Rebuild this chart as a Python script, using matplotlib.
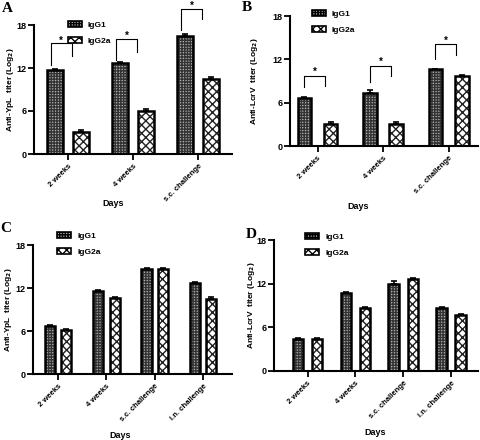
import numpy as np
import matplotlib
matplotlib.use("Agg")
import matplotlib.pyplot as plt

plt.rcParams['font.family'] = ['Liberation Sans', 'DejaVu Sans']
plt.rcParams['font.weight'] = 'bold'
plt.rcParams['hatch.linewidth'] = 1.0
plt.rcParams['mathtext.default'] = 'bf'

# --- data ---
days3 = ["2 weeks", "4 weeks", "s.c. challenge"]
days4 = ["2 weeks", "4 weeks", "s.c. challenge", "i.n. challenge"]

ypl_igg1_a = [11.7, 12.7, 16.4]
ypl_igg2a_a = [3.1, 6.0, 10.4]
ypl_igg1_a_err = [0.1, 0.1, 0.3]
ypl_igg2a_a_err = [0.3, 0.3, 0.3]

lcrv_igg1_b = [6.7, 7.4, 10.6]
lcrv_igg2a_b = [3.1, 3.1, 9.7]
lcrv_igg1_b_err = [0.1, 0.3, 0.1]
lcrv_igg2a_b_err = [0.25, 0.25, 0.1]

ypl_igg1_c = [6.7, 11.6, 14.7, 12.7]
ypl_igg2a_c = [6.1, 10.6, 14.7, 10.4]
ypl_igg1_c_err = [0.1, 0.1, 0.1, 0.1]
ypl_igg2a_c_err = [0.15, 0.1, 0.1, 0.3]

lcrv_igg1_d = [4.4, 10.7, 12.0, 8.7]
lcrv_igg2a_d = [4.4, 8.7, 12.7, 7.7]
lcrv_igg1_d_err = [0.1, 0.1, 0.35, 0.1]
lcrv_igg2a_d_err = [0.1, 0.1, 0.1, 0.1]

# significance brackets: (group, top, left leg end, right leg end, star y)
brackets_a = [(0, 15.5, 12.4, 13.7, 16.1), (1, 16.0, 13.1, 14.3, 16.8), (2, 20.3, 17.3, 18.9, 21.0)]
brackets_b = [(0, 9.7, 8.1, 8.3, 10.5), (1, 11.1, 8.9, 9.7, 11.9), (2, 14.1, 12.0, 12.6, 14.9)]

fig = plt.figure(figsize=(4.8, 4.4), dpi=100)

def px(l, t, r, b):
    W, H = 480, 440
    return [l / W, 1 - b / H, (r - l) / W, (b - t) / H]

def panel(rect, cats, g1, g2, e1, e2, ylabel, off, width, xlim, leg_xy, xlab_xy, ylab_x, letter, letter_xy):
    ax = fig.add_axes(px(*rect))
    x = np.arange(len(cats))
    z = np.zeros(len(cats))
    # hatch layer first, then black outline on top
    ax.bar(x - off, g1, width, facecolor='#b0b0b0', edgecolor='#333333', hatch='++++++', linewidth=0)
    ax.bar(x + off, g2, width, facecolor='white', edgecolor='#222222', hatch='xxxx', linewidth=0)
    ax.bar(x - off, g1, width, fill=False, edgecolor='black', linewidth=1.8)
    ax.bar(x + off, g2, width, fill=False, edgecolor='black', linewidth=1.8)
    ax.errorbar(x - off, g1, yerr=[z, e1], fmt='none', ecolor='black', elinewidth=1.2, capsize=2.5, capthick=1.2)
    ax.errorbar(x + off, g2, yerr=[z, e2], fmt='none', ecolor='black', elinewidth=1.2, capsize=2.5, capthick=1.2)
    # legend handles
    ax.bar([0], [0], 0, facecolor='#b0b0b0', edgecolor='black', hatch='++++++', linewidth=1.2, label='IgG1')
    ax.bar([0], [0], 0, facecolor='white', edgecolor='black', hatch='xxxx', linewidth=1.2, label='IgG2a')
    ax.set_ylim(0, 18)
    ax.set_yticks([0, 6, 12, 18])
    ax.set_xlim(*xlim)
    ax.set_xticks(x)
    ax.set_xticklabels(cats, rotation=45, ha='right', rotation_mode='anchor', fontsize=5.5)
    ax.tick_params(axis='y', labelsize=6.5, width=1.3, length=4, pad=1.5)
    ax.tick_params(axis='x', width=1.3, length=4, pad=2)
    for s in ['top', 'right']:
        ax.spines[s].set_visible(False)
    for s in ['left', 'bottom']:
        ax.spines[s].set_linewidth(1.5)
    ax.set_ylabel(ylabel, fontsize=6, fontweight='bold')
    ax.yaxis.set_label_coords(ylab_x, 0.5)
    ax.set_xlabel("Days", fontsize=6.5, fontweight='bold')
    ax.xaxis.set_label_coords(*xlab_xy)
    ax.legend(loc='upper left', bbox_to_anchor=(leg_xy[0] / 480, 1 - leg_xy[1] / 440),
              bbox_transform=fig.transFigure, frameon=False, fontsize=6,
              handlelength=1.7, handleheight=0.8, handletextpad=0.7, labelspacing=0.9,
              borderpad=0, borderaxespad=0)
    fig.text(letter_xy[0] / 480, 1 - letter_xy[1] / 440, letter, family='Liberation Serif',
             fontsize=11, fontweight='bold', ha='left', va='top')
    return ax

def add_brackets(ax, brackets, x0, x1):
    for g, top, yl, yr, ys in brackets:
        ax.plot([g + x0, g + x0, g + x1, g + x1], [yl, top, top, yr], color='black', lw=0.8, clip_on=False)
        ax.text(g + (x0 + x1) / 2, ys - 0.3, "*", ha='center', va='center', fontsize=7, clip_on=False)

ax_a = panel((34, 25, 232, 154), days3, ypl_igg1_a, ypl_igg2a_a, ypl_igg1_a_err, ypl_igg2a_a_err,
             r"Anti-YpL  titer (Log$_2$)", 0.2, 0.24, (-0.52, 2.52), (68, 21), (0.40, -0.35), -0.09, "A", (2, 2))
add_brackets(ax_a, brackets_a, -0.26, 0.06)

ax_b = panel((290, 16, 478, 146), days3, lcrv_igg1_b, lcrv_igg2a_b, lcrv_igg1_b_err, lcrv_igg2a_b_err,
             r"Anti-LcrV  titer (Log$_2$)", 0.2, 0.21, (-0.42, 2.45), (312, 10), (0.36, -0.43), -0.16, "B", (242, 1))
add_brackets(ax_b, brackets_b, -0.2, 0.12)

ax_c = panel((33, 245, 232, 374), days4, ypl_igg1_c, ypl_igg2a_c, ypl_igg1_c_err, ypl_igg2a_c_err,
             r"Anti-YpL  titer (Log$_2$)", 0.17, 0.21, (-0.52, 3.6), (57, 232), (0.44, -0.44), -0.095, "C", (0, 222))

ax_d = panel((274, 240, 478, 371), days4, lcrv_igg1_d, lcrv_igg2a_d, lcrv_igg1_d_err, lcrv_igg2a_d_err,
             r"Anti-LcrV  titer (Log$_2$)", 0.2, 0.22, (-0.7, 3.56), (305, 233), (0.495, -0.435), -0.085, "D", (246, 228))

fig.savefig("out.png", dpi=100)
